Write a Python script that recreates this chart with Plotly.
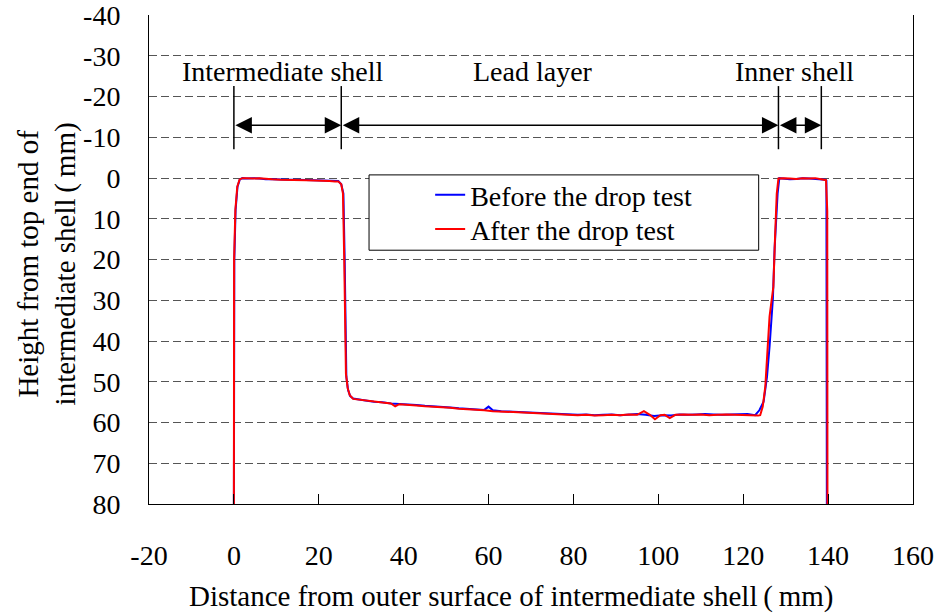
import plotly.graph_objects as go

# Surface profiles across the shell wall (distance mm, height mm; height measured downward)
before_x = [0.0, 0.0, 0.1, 0.4, 0.85, 1.4, 2.0, 3.0, 4.5, 6.0,
            7.5, 9.0, 11.0, 13.0, 15.0, 17.0, 19.0, 21.0, 22.5, 23.8,
            24.6, 25.3, 25.8, 26.1, 26.3, 26.5, 26.9, 27.4, 28.1, 29.5,
            31, 33, 35, 37, 39, 41, 43, 45, 47, 49,
            51, 53, 55, 57, 59, 60.0, 61, 63, 65, 67,
            69, 71, 73, 75, 77, 79, 81, 83, 85, 87,
            89, 91, 93, 95, 97, 99, 101, 103, 105, 107,
            109, 111, 113, 115, 117, 119, 121, 122.8, 123.8, 124.8,
            125.6, 126.2, 127.0, 127.4, 128.1, 128.5, 129.5, 131, 132.5, 134,
            135.5, 137, 138.5, 139.4, 139.6, 139.7]
before_y = [80, 57, 20, 7.8, 2.1, 0.3, 0.0, 0.1, 0.0, 0.1,
            0.3, 0.3, 0.4, 0.4, 0.4, 0.5, 0.6, 0.6, 0.7, 0.7,
            0.7, 1.5, 3.8, 20, 35, 48.8, 52, 53.5, 54.1, 54.4,
            54.6, 54.9, 55.0, 55.3, 55.4, 55.6, 55.7, 55.9, 56.0, 56.2,
            56.3, 56.5, 56.6, 56.8, 56.9, 56.1, 57.0, 57.2, 57.3, 57.5,
            57.6, 57.7, 57.8, 57.9, 58.0, 58.0, 58.1, 58.0, 58.2, 58.1,
            58.0, 58.2, 58.1, 57.9, 58.1, 58.4, 58.2, 58.3, 58.0, 58.1,
            58.0, 57.9, 58.0, 58.1, 58.0, 58.0, 57.9, 58.2, 57.0, 54.9,
            48.8, 41.4, 29.4, 17.2, 3.8, 0.0, 0.1, 0.3, 0.2, 0.0,
            0.1, 0.2, 0.3, 0.4, 0.6, 80]

after_x = [0.0, 0.0, 0.05, 0.35, 0.8, 1.35, 2.0, 3.0, 4.5, 6.0,
           7.5, 9.0, 11.0, 13.0, 15.0, 17.0, 19.0, 21.0, 22.5, 23.8,
           24.6, 25.3, 25.7, 26.0, 26.2, 26.4, 26.8, 27.3, 28.1, 29.5,
           31, 33, 35, 37, 38, 39, 41, 43, 45, 47,
           49, 51, 53, 55, 57, 59, 61, 63, 65, 67,
           69, 71, 73, 75, 77, 79, 81, 83, 85, 87,
           89, 91, 93, 95, 96.6, 98, 99.2, 100.5, 101.5, 102.7,
           104, 106, 108, 110, 112, 114, 116, 118, 120, 122,
           123.5, 124.0, 124.6, 125.2, 125.6, 125.9, 126.2, 126.7, 127.1, 127.5,
           127.9, 128.3, 129.5, 131, 132.5, 134, 135.5, 137, 138.5, 139.5,
           139.8, 139.85]
after_y = [80, 57, 20, 7.8, 2.1, 0.3, 0.0, 0.0, 0.1, 0.0,
           0.2, 0.3, 0.4, 0.4, 0.5, 0.5, 0.6, 0.6, 0.7, 0.8,
           0.8, 1.5, 3.8, 20, 35, 48, 51.5, 53.3, 54.2, 54.4,
           54.7, 54.9, 55.1, 55.3, 56.0, 55.5, 55.6, 55.8, 56.0, 56.1,
           56.3, 56.4, 56.6, 56.7, 56.9, 57.0, 57.2, 57.3, 57.4, 57.5,
           57.7, 57.8, 57.9, 58.0, 58.1, 58.1, 58.2, 58.1, 58.3, 58.2,
           58.1, 58.2, 58.0, 58.1, 57.2, 58.1, 59.2, 58.2, 58.1, 58.9,
           58.1, 58.0, 58.1, 58.0, 58.2, 58.1, 58.0, 58.1, 58.2, 58.3,
           58.3, 58.2, 56.1, 51.2, 44.7, 38.1, 34.0, 29.9, 26.7, 14.4,
           3.8, 0.1, 0.0, 0.1, 0.2, 0.0, 0.1, 0.0, 0.2, 0.5,
           8, 80]

# Axis ticks
x_ticks = [-20, 0, 20, 40, 60, 80, 100, 120, 140, 160]
x_labels = ["-20", "0", "20", "40", "60", "80", "100", "120", "140", "160"]
y_ticks = [-40, -30, -20, -10, 0, 10, 20, 30, 40, 50, 60, 70, 80]
y_labels = ["-40", "-30", "-20", "-10", "0", "10", "20", "30", "40", "50", "60", "70", "80"]

# Layer boundaries and their labels
boundaries = [0, 25.3, 128.3, 138.4]
layer_names = ["Intermediate shell", "Lead layer", "Inner shell"]
layer_label_x = [11.5, 70.5, 132.0]

FONT = "Liberation Serif, Times New Roman, serif"
FS = 28
TITLE_FS = 29

fig = go.Figure()
fig.add_trace(go.Scatter(x=before_x, y=before_y, mode="lines", name="Before the drop test",
                         line=dict(color="#0000FF", width=2), legend="legend"))
fig.add_trace(go.Scatter(x=after_x, y=after_y, mode="lines", name="After the drop test",
                         line=dict(color="#FF0000", width=2), legend="legend2"))

# Boundary markers and dimension arrows
arrow_y = -13.0
for b in boundaries:
    fig.add_shape(type="line", x0=b, x1=b, y0=-22.6, y1=-7.1, xref="x", yref="y",
                  line=dict(color="black", width=1.5))
for i in range(len(boundaries) - 1):
    fig.add_annotation(x=boundaries[i + 1], y=arrow_y, ax=boundaries[i], ay=arrow_y,
                       xref="x", yref="y", axref="x", ayref="y", text="",
                       showarrow=True, arrowside="end+start", arrowhead=2, startarrowhead=2,
                       arrowsize=2.2, startarrowsize=2.2, arrowwidth=1.5, arrowcolor="black",
                       standoff=0, startstandoff=0)
for name, lx in zip(layer_names, layer_label_x):
    fig.add_annotation(x=lx, y=-26.1, xref="x", yref="y", text=name, showarrow=False,
                       font=dict(family=FONT, size=FS, color="black"))

# Legend frame
fig.add_shape(type="rect", xref="paper", yref="paper", x0=0.288, x1=0.798, y0=0.519, y1=0.673,
              line=dict(color="black", width=1), fillcolor="white", layer="above")

# Axis titles
fig.add_annotation(xref="paper", yref="paper", x=0.475, y=-0.19, yanchor="middle",
                   text="Distance from outer surface of intermediate shell\u2009(\u2009mm)",
                   showarrow=False, font=dict(family=FONT, size=TITLE_FS, color="black"))
fig.add_annotation(xref="paper", yref="paper", x=-0.1335, y=0.49, xanchor="center",
                   yanchor="middle", textangle=-90,
                   text="Height from top end of<br>intermediate shell\u2009(\u2009mm)",
                   showarrow=False, font=dict(family=FONT, size=TITLE_FS, color="black"))

legend_style = dict(xanchor="left", yanchor="top", bgcolor="rgba(0,0,0,0)", borderwidth=0,
                    font=dict(family=FONT, size=FS, color="black"))

fig.update_layout(
    width=939, height=613,
    margin=dict(l=149, r=26, t=15, b=109),
    paper_bgcolor="white", plot_bgcolor="white",
    font=dict(family=FONT, size=FS, color="black"),
    showlegend=True,
    legend=dict(x=0.368, y=0.683, **legend_style),
    legend2=dict(x=0.368, y=0.613, **legend_style),
    xaxis=dict(range=[-20, 160], tickmode="array", tickvals=x_ticks, ticktext=x_labels,
               showgrid=False, zeroline=False, showline=True, linecolor="black", linewidth=1,
               ticks="inside", ticklen=10, tickcolor="black", ticklabelstandoff=26,
               automargin=False,
               tickfont=dict(family=FONT, size=FS, color="black")),
    yaxis=dict(range=[80, -40.05], tickmode="array", tickvals=y_ticks, ticktext=y_labels,
               showgrid=True, gridcolor="#555555", griddash="8px,4px", gridwidth=1,
               zeroline=False, showline=True, mirror=True, linecolor="black", linewidth=1,
               ticks="", ticklabelstandoff=22, automargin=False,
               tickfont=dict(family=FONT, size=FS, color="black")),
)

fig.write_html("out.html")
